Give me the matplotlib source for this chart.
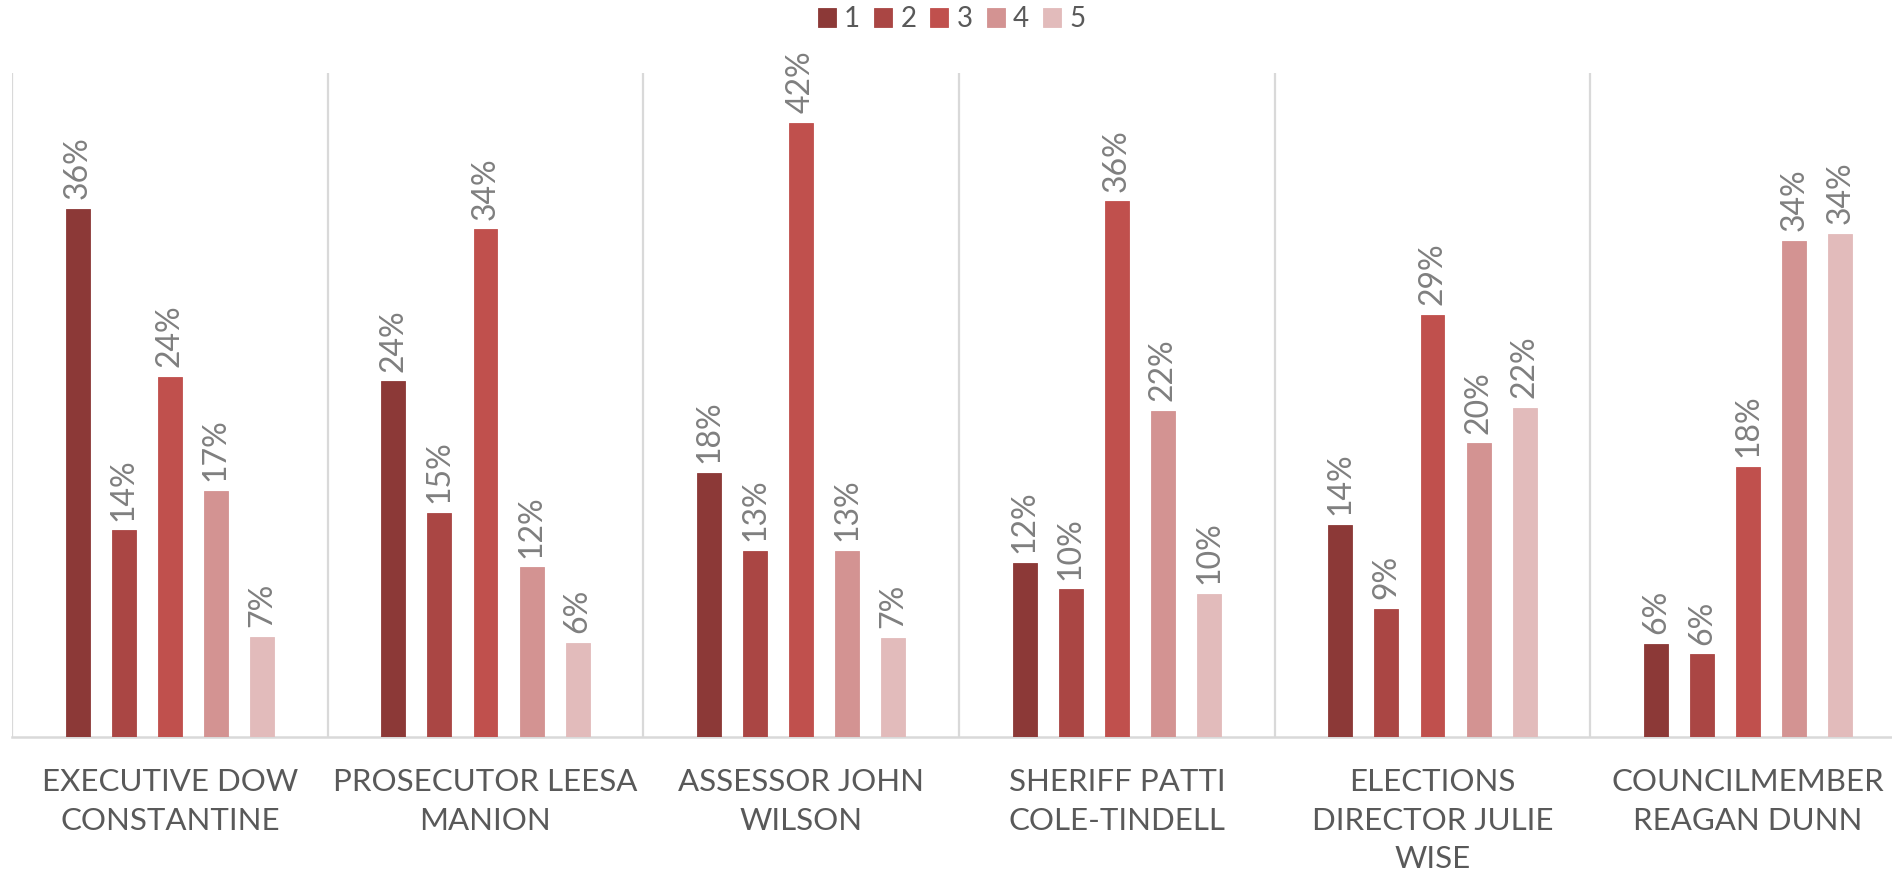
import matplotlib
matplotlib.use("Agg")
import matplotlib.pyplot as plt
import numpy as np

categories = ["EXECUTIVE DOW\nCONSTANTINE", "PROSECUTOR LEESA\nMANION", "ASSESSOR JOHN\nWILSON",
              "SHERIFF PATTI\nCOLE-TINDELL", "ELECTIONS\nDIRECTOR JULIE\nWISE", "COUNCILMEMBER\nREAGAN DUNN"]
series_names = ["1", "2", "3", "4", "5"]
s1 = [35.8, 24.1, 17.9, 11.8, 14.4, 6.3]
s2 = [14.0, 15.2, 12.6, 10.0, 8.7, 5.6]
s3 = [24.4, 34.4, 41.6, 36.3, 28.6, 18.3]
s4 = [16.7, 11.5, 12.6, 22.1, 19.9, 33.6]
s5 = [6.8, 6.4, 6.7, 9.7, 22.3, 34.1]
series = [s1, s2, s3, s4, s5]
colors = ["#8C3937", "#AA4644", "#C0504D", "#D39392", "#E2BBBB"]

plt.rcParams['font.family'] = ['Lato', 'DejaVu Sans']

fig = plt.figure(figsize=(18.92, 8.73), dpi=100)
ax = fig.add_axes([12/1892, 0.1558, 1894/1892, 0.9164 - 0.1558])

x = np.arange(len(categories))
pitch = 0.1458
width = 0.076
grid_c = "#D9D9D9"

handles = []
for k, (vals, col, name) in enumerate(zip(series, colors, series_names)):
    pos = x + (k - 2) * pitch
    b = ax.bar(pos, vals, width, color=col, edgecolor=col, linewidth=0.6, label=name, zorder=3)
    handles.append(b)
    for p, v in zip(pos, vals):
        ax.annotate(f"{int(v + 0.5)}%", xy=(p, v), xytext=(0, 7), textcoords="offset points",
                    rotation=90, ha="center", va="bottom", fontsize=23, color="#7F7F7F")

ax.set_xlim(-0.5, len(categories) - 0.5)
ax.set_ylim(0, 45)
for b in np.arange(-0.5, len(categories), 1.0):
    ax.axvline(b, color=grid_c, linewidth=1.6, zorder=1)
for s in ["top", "right", "left"]:
    ax.spines[s].set_visible(False)
ax.spines["bottom"].set_color(grid_c)
ax.spines["bottom"].set_linewidth(1.8)
ax.set_yticks([])
ax.set_xticks([])

for i, c in enumerate(categories):
    ax.annotate(c, xy=(i, 0), xycoords=("data", "axes fraction"), xytext=(0, -22.5),
                textcoords="offset points", ha="center", va="top", fontsize=22.5,
                color="#595959", linespacing=1.46)

leg = fig.legend(handles=handles, labels=series_names, loc="center", bbox_to_anchor=(0.503, 0.978),
                 ncol=5, frameon=False, fontsize=20, handlelength=0.65, handleheight=0.65,
                 handletextpad=0.3, columnspacing=0.5, labelcolor="#595959")

fig.savefig("out.png", dpi=100)
